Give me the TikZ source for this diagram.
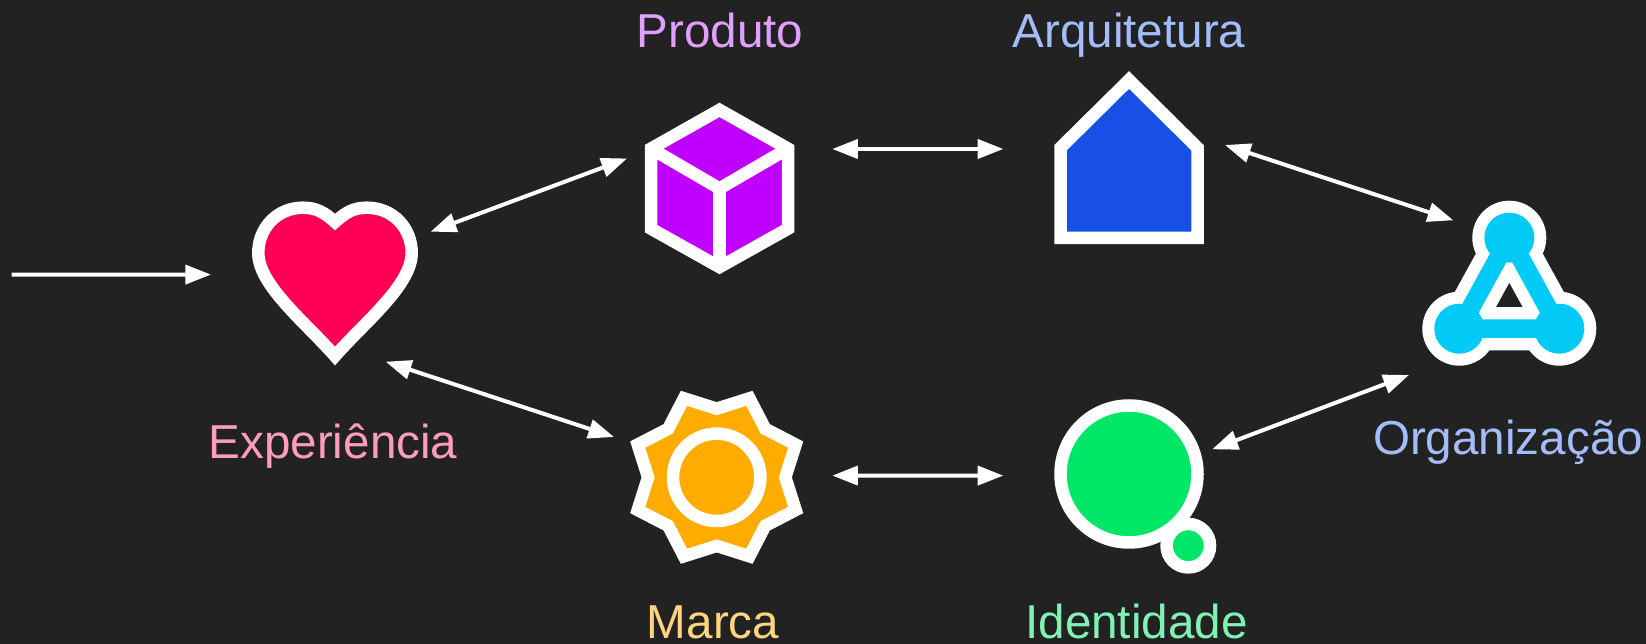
\documentclass[tikz,border=0pt]{standalone}
\usepackage{xcolor}
\usepackage{fontspec}
\setmainfont{Liberation Sans}
\usepackage{tikz}
\usetikzlibrary{arrows.meta}
\usetikzlibrary{calc}
\definecolor{fundo}{HTML}{222222}
\definecolor{coracao}{HTML}{FF0055}
\definecolor{caixa}{HTML}{BF00FF}
\definecolor{casa}{HTML}{1750E5}
\definecolor{rede}{HTML}{00CAF5}
\definecolor{sol}{HTML}{FFAB00}
\definecolor{bolha}{HTML}{00E667}
\definecolor{txtexp}{HTML}{FF9DBB}
\definecolor{txtprod}{HTML}{DFA0FF}
\definecolor{txtarq}{HTML}{A3BCFA}
\definecolor{txtmarca}{HTML}{FFD580}
\definecolor{txtid}{HTML}{80F2B3}
\tikzset{
  icone/.style={draw=white, line width=.25cm, line join=miter},
  porta/.style={rectangle, inner sep=0pt, outer sep=0pt},
  seta/.style={draw=white, line width=.08cm, -{Triangle[length=.514cm,width=.38cm]}},
  setadupla/.style={seta, {Triangle[length=.514cm,width=.38cm]}-{Triangle[length=.514cm,width=.38cm]}},
  rotulo/.style={anchor=base, inner sep=0pt, font=\fontsize{27.1}{32}\selectfont}
}

\begin{document}
\begin{tikzpicture}[x=.02cm,y=-.02cm]
                \useasboundingbox (0,0) rectangle (1646,644);
                \fill[fundo] (0,0) rectangle (1646,644);

                % Experiencia
                \draw[icone, fill=coracao] (335,222) .. controls (346,212) and (354,207.7) .. (367,207.7)
                  .. controls (393,207.7) and (411.7,228) .. (411.7,253)
                  .. controls (411.7,285) and (365,322) .. (335,356)
                  .. controls (305,322) and (258.3,285) .. (258.3,253)
                  .. controls (258.3,228) and (277,207.7) .. (303,207.7)
                  .. controls (316,207.7) and (324,212) .. cycle;

                % Produto
                \draw[icone, fill=caixa] (719.5,109.9) -- (788,148.6) -- (788,228.7) -- (719.5,267.1) -- (651,228.7) -- (651,148.6) -- cycle;
                \draw[icone] (651,148.6) -- (719.5,188.5) -- (788,148.6);
                \draw[icone] (719.5,188.5) -- (719.5,267.1);

                % Arquitetura
                \draw[icone, fill=casa] (1129,80) -- (1197.5,147.7) -- (1197.5,238) -- (1060.5,238) -- (1060.5,147.7) -- cycle;

                % Organizacao
                \draw[white, line width=.866cm, line join=round] (1509.3,237.7) -- (1559.3,328.7) -- (1459.3,328.7) -- cycle;
                \fill[white] (1509.3,237.7) circle(37);
                \fill[white] (1459.3,328.7) circle(37);
                \fill[white] (1559.3,328.7) circle(37);
                \draw[rede, line width=.372cm] (1509.3,237.7) -- (1559.3,328.7) -- (1459.3,328.7) -- cycle;
                \fill[rede] (1509.3,237.7) circle(25);
                \fill[rede] (1459.3,328.7) circle(25);
                \fill[rede] (1559.3,328.7) circle(25);

                % Marca
                \begin{scope}[shift={(716.7,477.3)}]
                  \draw[icone, fill=sol] (0:68.6) \foreach \a in {0,45,...,315} { -- (\a+22.5:85.5) -- (\a+45:68.6)} -- cycle;
                  \draw[icone] (0,0) circle(43.7);
                \end{scope}

                % Identidade
                \draw[icone, fill=bolha] (1129,474) circle(68.5);
                \draw[icone, fill=bolha] (1188.3,545.7) circle(21.75);

                % Portas invisiveis em volta dos icones
                \node[porta, minimum width=4.394cm, minimum height=3.148cm] (coracao) at (320.85,283) {};
                \node[porta, minimum width=4.106cm, minimum height=3cm] (caixa) at (729.65,187.5) {};
                \node[porta, minimum width=4.434cm, minimum height=3cm] (casa) at (1114.15,160) {};
                \node[porta, minimum width=4cm, minimum height=3.088cm] (rede) at (1509,297.5) {};
                \node[porta, minimum width=4.366cm, minimum height=3cm] (sol) at (723.15,477.3) {};
                \node[porta, minimum width=4.18cm, minimum height=3cm] (bolha) at (1107.8,474) {};
                \coordinate (inicio) at (11.5,274.6);

                % Setas
                \draw[seta] (inicio) -- ($(coracao.west)+(0,-8.4)$);
                \draw[setadupla] ($(coracao.east)+(0,-51.3)$) -- ($(caixa.west)+(0,-29)$);
                \draw[setadupla] ($(caixa.east)+(0,-38.5)$) -- ($(casa.west)+(0,-11)$);
                \draw[setadupla] ($(casa.east)+(0,-15)$) -- ($(rede.north)+(-55.7,0)$);
                \draw[setadupla] ($(coracao.south)+(64.85,0)$) -- ($(sol.west)+(0,-40.3)$);
                \draw[setadupla] ($(sol.east)+(0,-1.7)$) -- ($(bolha.west)+(0,1.6)$);
                \draw[setadupla] ($(bolha.east)+(0,-24.7)$) -- ($(rede.west)+(0,77.5)$);

                % Rotulos
                \node[rotulo, text=txtexp] (experiencia) at (333,458.7) {Experiência};
                \node[rotulo, text=txtprod] (produto) at (720,48) {Produto};
                \node[rotulo, text=txtarq] (arquitetura) at (1129,48) {Arquitetura};
                \node[rotulo, text=txtarq] (organizacao) at (1508,455) {Organização};
                \node[rotulo, text=txtmarca] (marca) at (713,638.5) {Marca};
                \node[rotulo, text=txtid] (identidade) at (1136.5,638.5) {Identidade};
            \end{tikzpicture}
\end{document}
